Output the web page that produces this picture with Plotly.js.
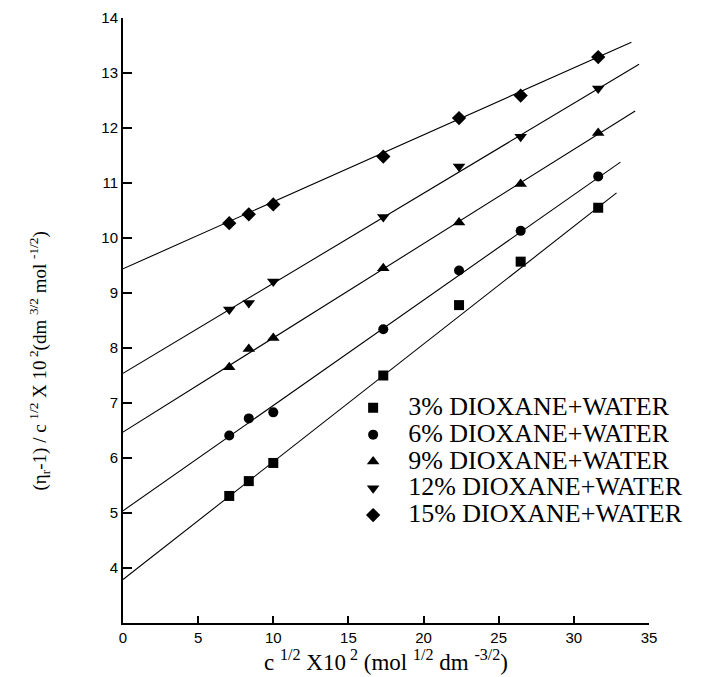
<!DOCTYPE html>
<html>
<head>
<meta charset="utf-8">
<script src="https://cdn.plot.ly/plotly-3.0.1.min.js"></script>
<style>html,body{margin:0;padding:0;background:#fff;}</style>
</head>
<body>
<div id="chart" style="width:711px;height:677px;"></div>
<script>
// x values: c^(1/2) x 10^2
const xVals = [7.07, 8.37, 10.0, 17.32, 22.36, 26.46, 31.62];
// series values
const seriesNames = ["3% DIOXANE+WATER", "6% DIOXANE+WATER", "9% DIOXANE+WATER", "12% DIOXANE+WATER", "15% DIOXANE+WATER"];
const s3  = [5.31, 5.58, 5.91, 7.50, 8.78, 9.57, 10.55];
const s6  = [6.41, 6.72, 6.83, 8.34, 9.41, 10.13, 11.12];
const s9  = [7.65, 7.98, 8.18, 9.45, 10.28, 10.98, 11.91];
const s12 = [8.70, 8.82, 9.21, 10.38, 11.30, 11.84, 12.72];
const s15 = [10.27, 10.43, 10.61, 11.48, 12.18, 12.59, 13.29];
// fitted lines: start at x=0, end at lineEndX
const lineStartY = [3.79, 5.04, 6.47, 7.54, 9.44];
const lineEndX   = [32.84, 33.10, 34.08, 34.34, 33.83];
const lineEndY   = [10.82, 11.38, 12.31, 13.16, 13.56];
// ticks
const xTicks = [0, 5, 10, 15, 20, 25, 30, 35];
const yTicks = [4, 5, 6, 7, 8, 9, 10, 11, 12, 13, 14];

const series = [s3, s6, s9, s12, s15];
const symbols = ["square", "circle", "triangle-up", "triangle-down", "diamond"];
const sizes = [10, 10, 11, 11, 11];

const traces = [];
series.forEach((ys, i) => {
  traces.push({
    x: [0, lineEndX[i]], y: [lineStartY[i], lineEndY[i]],
    mode: "lines", line: {color: "#000", width: 1.1},
    showlegend: false, hoverinfo: "skip"
  });
});
series.forEach((ys, i) => {
  traces.push({
    x: xVals, y: ys, mode: "markers",
    name: "<span style=\"font-size:26px\">" + seriesNames[i] + "</span>",
    marker: {symbol: symbols[i], size: sizes[i], color: "#000"}
  });
});

const serif = "Liberation Serif, Times New Roman, serif";
const sans = "Liberation Sans, Arial, sans-serif";
// trailing non-breaking spaces (kept by a zero-width end char) shift the rotated title downward
const pad = "\u00a0".repeat(17) + "\u200b";

const layout = {
  width: 711, height: 677,
  margin: {l: 123, r: 62, t: 18, b: 54},
  paper_bgcolor: "#fff", plot_bgcolor: "#fff",
  showlegend: true,
  legend: {
    x: 0.409, y: 0.386, xanchor: "left", yanchor: "top",
    itemwidth: 60,
    font: {family: serif, size: 18.3, color: "#000"},
    bgcolor: "rgba(0,0,0,0)"
  },
  xaxis: {
    range: [0, 35], tickvals: xTicks, ticktext: xTicks.map(String),
    showgrid: false, zeroline: false, showline: true, linecolor: "#000", linewidth: 2,
    ticks: "inside", ticklen: 7, tickwidth: 1.5, tickcolor: "#000",
    tickfont: {family: sans, size: 15, color: "#000"},
    title: {text: "c <sup>1/2</sup> X10<sup> 2</sup> (mol <sup>1/2</sup> dm <sup>-3/2</sup>)",
            font: {family: serif, size: 23, color: "#000"}, standoff: 6}
  },
  yaxis: {
    range: [3, 14], tickvals: yTicks, ticktext: yTicks.map(String),
    showgrid: false, zeroline: false, showline: true, linecolor: "#000", linewidth: 2,
    ticks: "inside", ticklen: 9, tickwidth: 1.5, tickcolor: "#000",
    tickfont: {family: sans, size: 15, color: "#000"},
    title: {text: "(η<sub>r</sub>-1) / c <sup>1/2</sup> X 10<sup> 2</sup>(dm <sup>3/2</sup> mol <sup>-1/2</sup>)" + pad,
            font: {family: serif, size: 19, color: "#000"}, standoff: 50}
  }
};

Plotly.newPlot("chart", traces, layout, {displayModeBar: false});
</script>
</body>
</html>
